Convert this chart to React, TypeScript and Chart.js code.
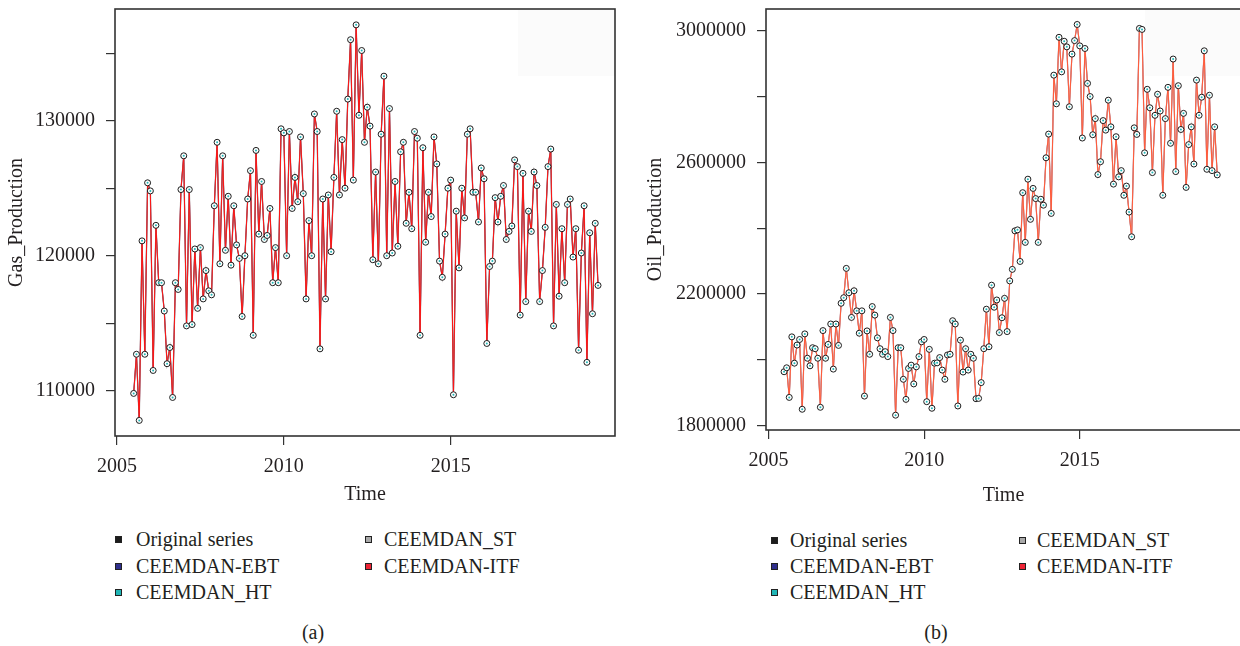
import React, { useEffect, useRef } from "react";
import { Chart, registerables } from "chart.js";

Chart.register(...registerables);

// ---------------- DATA ----------------
const startYear = 2005.5; // first month of the monthly series (July 2005)
const monthsPerYear = 12;

const gasProduction = [
  109800, 112700, 107800, 121100, 112700, 125400, 124800, 111500, 122250, 118000,
  118000, 115900, 112000, 113200, 109500, 118000, 117500, 124900, 127400, 114800,
  124900, 114900, 120500, 116100, 120600, 116800, 118900, 117400, 117100, 123700,
  128400, 119400, 127400, 120400, 124400, 119300, 123700, 120800, 119800, 115500,
  120000, 124200, 126300, 114100, 127800, 121600, 125500, 121200, 121500, 123500,
  118000, 120600, 118000, 129400, 129100, 120000, 129200, 123500, 125800, 124000,
  128800, 124600, 116800, 122600, 120000, 130500, 129200, 113100, 124200, 116800,
  124500, 120300, 125800, 130700, 124500, 128600, 125000, 131600, 136000, 125600,
  137100, 130400, 135200, 128400, 131000, 129600, 119700, 126200, 119400, 129000,
  133300, 120000, 130900, 120200, 125500, 120700, 127700, 128400, 122400, 124700,
  122000, 129200, 128700, 114100, 128000, 121000, 124700, 122900, 128800, 126800,
  119600, 118400, 121600, 125000, 125600, 109700, 123300, 119100, 125000, 122800,
  129000, 129400, 124700, 124700, 122500, 126500, 125700, 113500, 119200, 119600,
  124300, 122500, 124400, 125200, 121200, 121800, 122200, 127100, 126600, 115600,
  126100, 116600, 123300, 121800, 126200, 125200, 116600, 118900, 122100, 126600,
  127900, 114800, 123800, 117000, 122000, 118000, 123800, 124200, 119900, 122000,
  113000, 120200, 123700, 112100, 121700, 115700, 122400, 117800,
];

const oilProduction = [
  1964000, 1976000, 1886000, 2070000, 1990000, 2045000, 2062000, 1850000, 2079000, 2005000,
  1982000, 2037000, 2034000, 2005000, 1856000, 2089000, 2005000, 2047000, 2109000, 1972000,
  2109000, 2044000, 2172000, 2189000, 2278000, 2204000, 2129000, 2210000, 2149000, 2081000,
  2149000, 1890000, 2088000, 2017000, 2162000, 2136000, 2067000, 2034000, 2017000, 2025000,
  2010000, 2129000, 2089000, 1832000, 2037000, 2037000, 1941000, 1880000, 1974000, 1984000,
  1927000, 1979000, 2010000, 2055000, 2062000, 1873000, 2032000, 1853000, 1990000, 1991000,
  2007000, 1969000, 1941000, 2015000, 2017000, 2119000, 2109000, 1860000, 2060000, 1963000,
  2034000, 1969000, 2017000, 2005000, 1882000, 1883000, 1931000, 2034000, 2154000, 2040000,
  2227000, 2160000, 2182000, 2083000, 2128000, 2187000, 2086000, 2240000, 2275000, 2392000,
  2395000, 2299000, 2508000, 2357000, 2549000, 2427000, 2521000, 2490000, 2357000, 2488000,
  2470000, 2614000, 2686000, 2445000, 2865000, 2778000, 2980000, 2875000, 2968000, 2951000,
  2769000, 2929000, 2970000, 3019000, 2954000, 2674000, 2946000, 2840000, 2800000, 2684000,
  2733000, 2563000, 2602000, 2727000, 2698000, 2789000, 2708000, 2534000, 2678000, 2556000,
  2575000, 2500000, 2528000, 2449000, 2374000, 2705000, 2685000, 3007000, 3004000, 2629000,
  2822000, 2766000, 2569000, 2743000, 2807000, 2756000, 2500000, 2733000, 2828000, 2658000,
  2914000, 2572000, 2833000, 2700000, 2749000, 2524000, 2654000, 2708000, 2595000, 2850000,
  2743000, 2798000, 2939000, 2579000, 2804000, 2575000, 2708000, 2562000,
];

const xTickYears = [2005, 2010, 2015];
const gasTickValues = [110000, 115000, 120000, 125000, 130000, 135000];
const gasTickLabels = [110000, 120000, 130000];
const oilTickValues = [1800000, 2000000, 2200000, 2400000, 2600000, 2800000, 3000000];
const oilTickLabels = [1800000, 2200000, 2600000, 3000000];

const seriesNames = ["Original series", "CEEMDAN-EBT", "CEEMDAN_HT", "CEEMDAN_ST", "CEEMDAN-ITF"];
const seriesColors = ["#1c1c1c", "#2f2f8c", "#20b6b6", "#a9a9a9", "#ee2435"];

// ---------------- HELPERS ----------------
const FONT = "'Liberation Serif', 'DejaVu Serif', serif";
const TEXT = "#231f20";

function toPoints(values: number[]) {
  return values.map((v, i) => ({ x: startYear + i / monthsPerYear, y: v }));
}

const boxPlugin = {
  id: "plotBox",
  beforeDatasetsDraw(chart: any, _args: any, opts: any) {
    const { ctx, chartArea } = chart;
    ctx.save();
    ctx.fillStyle = "#fbfbfb";
    ctx.fillRect(chartArea.right - opts.shadeWidth, chartArea.top + 1, opts.shadeWidth, 66);
    ctx.restore();
  },
  afterDraw(chart: any) {
    const { ctx, chartArea } = chart;
    ctx.save();
    ctx.strokeStyle = "#333333";
    ctx.lineWidth = 1.6;
    ctx.strokeRect(chartArea.left, chartArea.top, chartArea.right - chartArea.left, chartArea.bottom - chartArea.top);
    ctx.restore();
  },
};

type PanelCfg = {
  values: number[];
  yTitle: string;
  yMin: number;
  yMax: number;
  xMin: number;
  xMax: number;
  yTicks: number[];
  yLabels: number[];
  yAxisWidth: number;
  xAxisHeight: number;
  padRight: number;
  yTitlePad: number;
  xTitlePad: number;
  lineColor: string;
  stColor: string;
  shadeWidth: number;
  width: number;
  height: number;
};

function Panel({ cfg, left }: { cfg: PanelCfg; left: number }) {
  const ref = useRef<HTMLCanvasElement | null>(null);
  useEffect(() => {
    if (!ref.current) return;
    const pts = toPoints(cfg.values);
    const chart = new Chart(ref.current, {
      type: "line",
      data: {
        datasets: [
          {
            label: seriesNames[0],
            data: pts,
            showLine: false,
            pointRadius: 3,
            pointBorderWidth: 1,
            pointBorderColor: seriesColors[0],
            pointBackgroundColor: "#ffffff",
            order: 1,
          },
          {
            label: seriesNames[1],
            data: pts,
            borderColor: seriesColors[1],
            borderWidth: 1,
            pointRadius: 0,
            order: 5,
          },
          {
            label: seriesNames[2],
            data: pts,
            showLine: false,
            pointRadius: 1,
            pointBorderWidth: 0,
            pointBorderColor: "rgba(0,0,0,0)",
            pointBackgroundColor: seriesColors[2],
            order: 0,
          },
          {
            label: seriesNames[3],
            data: pts,
            borderColor: cfg.stColor,
            borderWidth: 1.3,
            pointRadius: 0,
            order: 4,
          },
          {
            label: seriesNames[4],
            data: pts,
            borderColor: cfg.lineColor,
            borderWidth: 1,
            pointRadius: 0,
            order: 3,
          },
        ],
      },
      options: {
        animation: false,
        responsive: false,
        devicePixelRatio: 1,
        layout: { padding: { top: 9, right: cfg.padRight, left: 0, bottom: 0 } },
        plugins: {
          legend: { display: false },
          tooltip: { enabled: false },
          plotBox: { shadeWidth: cfg.shadeWidth },
        } as any,
        elements: { line: { tension: 0 } },
        scales: {
          x: {
            type: "linear",
            min: cfg.xMin,
            max: cfg.xMax,
            afterBuildTicks: (axis: any) => {
              axis.ticks = xTickYears.map((v) => ({ value: v }));
            },
            afterFit: (axis: any) => {
              axis.height = cfg.xAxisHeight;
              axis.paddingLeft = 0;
              axis.paddingRight = 0;
            },
            ticks: {
              autoSkip: false,
              maxRotation: 0,
              padding: 10,
              color: TEXT,
              font: { family: FONT, size: 20 },
              callback: (v: any) => String(v),
            },
            grid: { display: true, drawOnChartArea: false, drawTicks: true, tickLength: 9, color: "#333", lineWidth: 1.2 },
            border: { display: false },
            title: {
              display: true,
              text: "Time",
              color: TEXT,
              font: { family: FONT, size: 20 },
              padding: { top: 0, bottom: cfg.xTitlePad },
            },
          },
          y: {
            type: "linear",
            min: cfg.yMin,
            max: cfg.yMax,
            afterBuildTicks: (axis: any) => {
              axis.ticks = cfg.yTicks.map((v) => ({ value: v }));
            },
            afterFit: (axis: any) => {
              axis.width = cfg.yAxisWidth;
              axis.paddingTop = 0;
              axis.paddingBottom = 0;
            },
            ticks: {
              autoSkip: false,
              padding: 11,
              color: TEXT,
              font: { family: FONT, size: 20 },
              callback: (v: any) => (cfg.yLabels.includes(Number(v)) ? String(v) : ""),
            },
            grid: { display: true, drawOnChartArea: false, drawTicks: true, tickLength: 9, color: "#333", lineWidth: 1.2 },
            border: { display: false },
            title: {
              display: true,
              text: cfg.yTitle,
              color: TEXT,
              font: { family: FONT, size: 20 },
              padding: { top: cfg.yTitlePad, bottom: 0 },
            },
          },
        },
      },
      plugins: [boxPlugin],
    });
    return () => chart.destroy();
  }, [cfg]);
  return (
    <canvas
      ref={ref}
      width={cfg.width}
      height={cfg.height}
      style={{ position: "absolute", left, top: 0, width: cfg.width, height: cfg.height }}
    />
  );
}

function Legend({ sqX, textX, sqX2, textX2, rows }: { sqX: number; textX: number; sqX2: number; textX2: number; rows: number[] }) {
  const items = [
    { i: 0, sx: sqX, tx: textX, y: rows[0] },
    { i: 1, sx: sqX, tx: textX, y: rows[1] },
    { i: 2, sx: sqX, tx: textX, y: rows[2] },
    { i: 3, sx: sqX2, tx: textX2, y: rows[0] },
    { i: 4, sx: sqX2, tx: textX2, y: rows[1] },
  ];
  return (
    <>
      {items.map((it) => (
        <React.Fragment key={it.i}>
          <div
            style={{
              position: "absolute",
              left: it.sx - 3.5,
              top: it.y - 3.5,
              width: 5,
              height: 5,
              border: "1px solid #222",
              background: seriesColors[it.i],
            }}
          />
          <div
            style={{
              position: "absolute",
              left: it.tx,
              top: it.y - 12,
              height: 24,
              lineHeight: "24px",
              fontSize: 20,
              color: TEXT,
              whiteSpace: "nowrap",
            }}
          >
            {seriesNames[it.i]}
          </div>
        </React.Fragment>
      ))}
    </>
  );
}

const gasCfg: PanelCfg = {
  values: gasProduction,
  yTitle: "Gas_Production",
  yMin: 106645,
  yMax: 138275,
  xMin: 2004.94,
  xMax: 2019.925,
  yTicks: gasTickValues,
  yLabels: gasTickLabels,
  yAxisWidth: 115,
  xAxisHeight: 74,
  padRight: 3,
  yTitlePad: 5,
  xTitlePad: 3,
  lineColor: "#ff1414",
  stColor: "#8c7c7c",
  shadeWidth: 97,
  width: 620,
  height: 510,
};

const oilCfg: PanelCfg = {
  values: oilProduction,
  yTitle: "Oil_Production",
  yMin: 1787000,
  yMax: 3066000,
  xMin: 2004.92,
  xMax: 2020.18,
  yTicks: oilTickValues,
  yLabels: oilTickLabels,
  yAxisWidth: 146,
  xAxisHeight: 80,
  padRight: 0,
  yTitlePad: 24,
  xTitlePad: 2,
  lineColor: "#ff5a3a",
  stColor: "#e0b0a8",
  shadeWidth: 96,
  width: 626,
  height: 510,
};

export default function App() {
  return (
    <div
      style={{
        position: "fixed",
        left: 0,
        top: 0,
        width: 1240,
        height: 646,
        overflow: "hidden",
        background: "#ffffff",
        fontFamily: FONT,
      }}
    >
      <Panel cfg={gasCfg} left={0} />
      <Panel cfg={oilCfg} left={620} />
      <Legend sqX={118} textX={136} sqX2={368} textX2={384} rows={[539, 566, 592]} />
      <Legend sqX={774} textX={790} sqX2={1022} textX2={1037} rows={[540, 566, 592]} />
      <div style={{ position: "absolute", left: 313, top: 620, transform: "translateX(-50%)", fontSize: 20, lineHeight: "24px", color: TEXT }}>
        (a)
      </div>
      <div style={{ position: "absolute", left: 936, top: 620, transform: "translateX(-50%)", fontSize: 20, lineHeight: "24px", color: TEXT }}>
        (b)
      </div>
    </div>
  );
}
